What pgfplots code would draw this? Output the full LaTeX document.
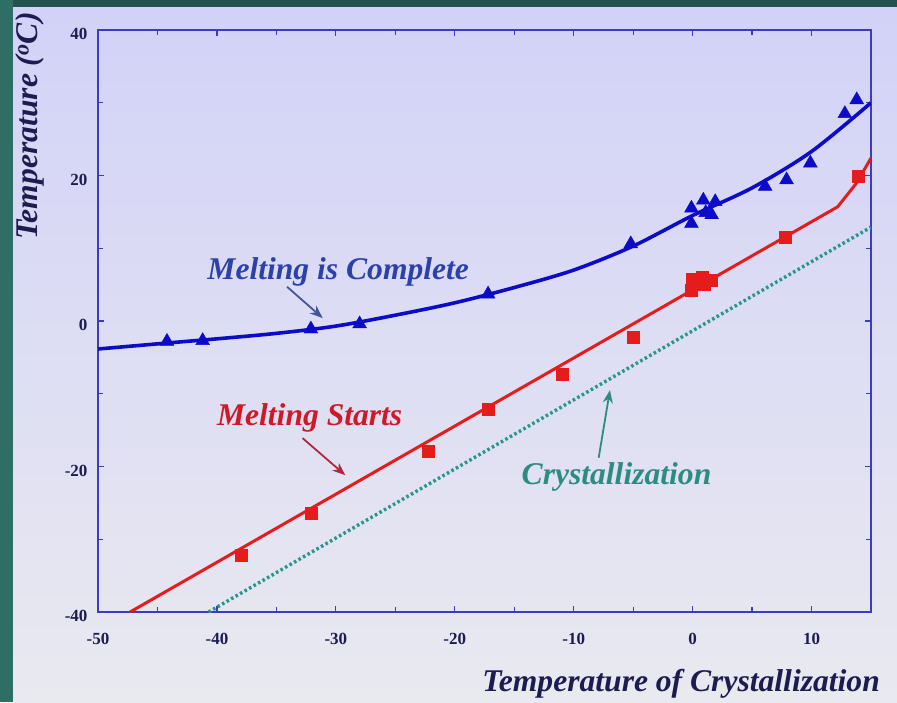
\documentclass[border=0pt]{standalone}
\usepackage{pgfplots}
\pgfplotsset{compat=1.18}
\usepackage{fontspec}
\setmainfont{Liberation Serif}
\usetikzlibrary{arrows.meta}
\definecolor{tealL}{RGB}{47,110,100}
\definecolor{tealT}{RGB}{36,82,78}
\definecolor{panelTop}{RGB}{210,210,248}
\definecolor{panelBot}{RGB}{233,233,240}
\definecolor{axisblue}{RGB}{60,60,190}
\definecolor{navy}{RGB}{28,28,80}
\definecolor{cblue}{RGB}{12,12,200}
\definecolor{cred}{RGB}{228,28,28}
\definecolor{cteal}{RGB}{40,150,140}
\definecolor{tblue}{RGB}{45,65,170}
\definecolor{tred}{RGB}{205,25,40}
\definecolor{tteal}{RGB}{45,140,130}
\definecolor{ablue}{RGB}{70,85,150}
\definecolor{ared}{RGB}{175,40,60}
\newcommand\lab{\fontsize{31.6}{32}\selectfont\bfseries\itshape}
\begin{document}
\begin{tikzpicture}[x=1pt,y=1pt]
\path[use as bounding box] (0,0) rectangle (897,702);
\fill[tealT] (0,0) rectangle (897,702);
\shade[top color=panelTop,bottom color=panelBot] (13,0) rectangle (897,694);
\fill[tealL] (0,0) rectangle (13,702);
\begin{axis}[at={(98pt,90pt)}, anchor=south west, scale only axis,
  width=773pt, height=582pt,
  xmin=-50, xmax=15, ymin=-40, ymax=40,
  xtick={-50,-40,-30,-20,-10,0,10},
  xticklabels={-50,-40,-30,-20,-10,0,10},
  ytick={-40,-20,0,20,40},
  yticklabels={-40,-20,0,20,40},
  minor xtick={-45,-35,-25,-15,-5,5,15},
  minor ytick={-30,-10,10,30},
  tick align=inside,
  major tick length=6pt, minor tick length=5pt,
  axis line style={draw=axisblue, line width=1.8pt},
  every tick/.style={draw=axisblue, line width=1.2pt},
  ticklabel style={font=\fontsize{17}{17}\selectfont\bfseries, text=navy},
  xticklabel style={anchor=base, yshift=-32pt},
  yticklabel style={xshift=-7pt, yshift=-4pt},
  clip=true]
% Melting is Complete curve
\addplot[cblue, line width=3.6pt, smooth, tension=0.5] coordinates {
 (-50,-3.85) (-44,-3.0) (-40,-2.45) (-35,-1.7) (-30,-0.7) (-25,0.8) (-20,2.5)
 (-15,4.6) (-10,7.0) (-5,10.3) (0,14.5) (5,18.3) (10,23.3) (15,30.0)};
% Melting Starts line
\addplot[cred, line width=3pt] coordinates {
 (-47.3,-40) (12.2,15.7) (13.8,19.0) (15,22.4)};
% Crystallization
\addplot[cteal, line width=3.4pt, dash pattern=on 2.6pt off 2.6pt] coordinates {
 (-40.7,-40) (15,12.9)};
% triangles
\addplot[only marks, mark=triangle*, mark size=8pt, cblue] coordinates {
 (-44.2,-2.8) (-41.2,-2.7) (-32.1,-1.1) (-28.0,-0.4) (-17.2,3.7) (-5.2,10.6)
 (-0.1,15.5) (-0.1,13.4) (0.9,16.6) (1.6,14.6) (1.9,16.4) (1.1,14.9)
 (6.1,18.5) (7.9,19.4) (9.9,21.7) (12.8,28.5) (13.8,30.4)};
% squares
\addplot[only marks, mark=square*, mark size=6pt, cred] coordinates {
 (-38.0,-32.2) (-32.1,-26.4) (-22.2,-17.9) (-17.2,-12.1) (-11.0,-7.3) (-5.0,-2.2)
 (-0.1,4.3) (0.0,5.8) (0.8,6.0) (1.0,5.1) (1.6,5.6) (7.8,11.5) (13.9,19.9)};
% annotations
\node[text=tblue, font=\lab] at (axis cs:-29.8,6.7) {Melting is Complete};
\draw[ablue, line width=1.8pt, -{Stealth[length=13pt,width=10pt]}] (axis cs:-34.1,4.7) -- (axis cs:-31.1,0.4);
\node[text=tred, font=\lab] at (axis cs:-32.2,-13.3) {Melting Starts};
\draw[ared, line width=1.8pt, -{Stealth[length=13pt,width=10pt]}] (axis cs:-32.8,-16.1) -- (axis cs:-29.2,-21.2);
\node[text=tteal, font=\lab] at (axis cs:-6.4,-21.4) {Crystallization};
\draw[tteal, line width=1.8pt, -{Stealth[length=13pt,width=10pt]}] (axis cs:-7.9,-18.8) -- (axis cs:-6.95,-9.5);
\end{axis}
\node[rotate=90, text=navy, font=\lab, inner sep=0pt] at (30,576) {Temperature (\textsuperscript{o}C)};
\node[anchor=base east, text=navy, font=\lab, inner sep=0pt] at (880,11) {Temperature of Crystallization};
\end{tikzpicture}
\end{document}
